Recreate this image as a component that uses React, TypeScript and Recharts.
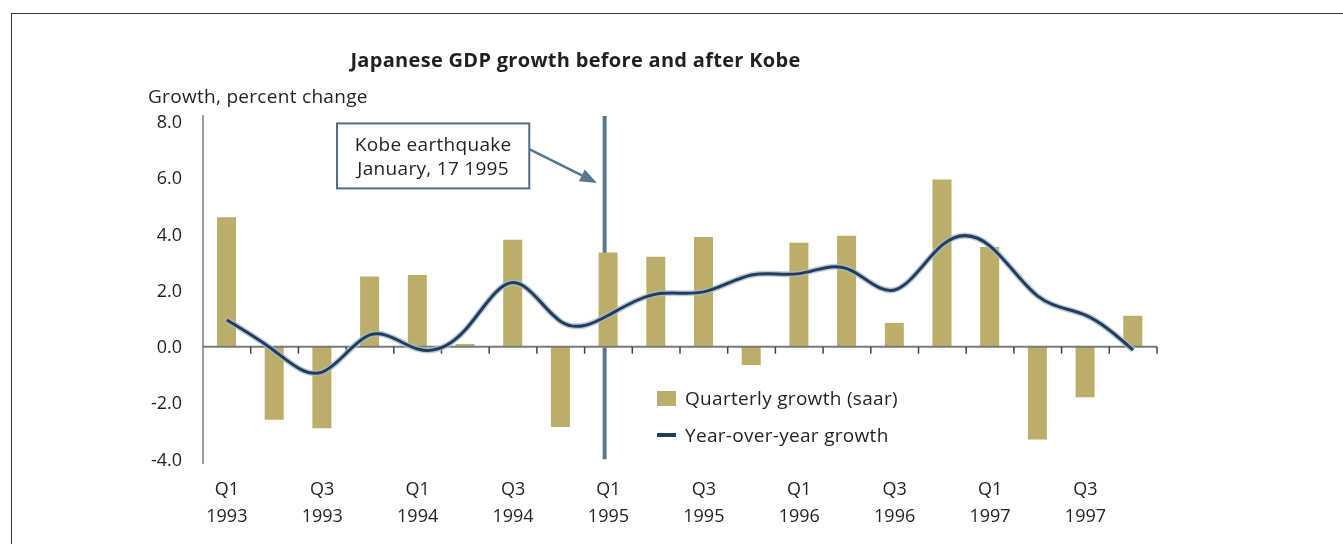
import React from "react";
import {
  ComposedChart,
  Bar,
  Line,
  XAxis,
  YAxis,
  ReferenceLine,
  ReferenceArea,
  Legend,
} from "recharts";

const quarters = [
  "Q1 1993", "Q2 1993", "Q3 1993", "Q4 1993",
  "Q1 1994", "Q2 1994", "Q3 1994", "Q4 1994",
  "Q1 1995", "Q2 1995", "Q3 1995", "Q4 1995",
  "Q1 1996", "Q2 1996", "Q3 1996", "Q4 1996",
  "Q1 1997", "Q2 1997", "Q3 1997", "Q4 1997",
];
const quarterlyGrowth = [
  4.6, -2.6, -2.9, 2.5, 2.55, 0.1, 3.8, -2.85, 3.35, 3.2,
  3.9, -0.65, 3.7, 3.95, 0.85, 5.95, 3.55, -3.3, -1.8, 1.1,
];
const yearOverYear = [
  0.95, -0.15, -0.9, 0.42, -0.08, 0.6, 2.28, 0.9, 1.12, 1.87,
  1.95, 2.55, 2.6, 2.78, 2.02, 3.62, 3.58, 1.8, 1.12, -0.12,
];
const yTicks = [-4, -2, 0, 2, 4, 6, 8];
const yDomain: [number, number] = [-4.17, 8.24];

// annotation, x in quarters from the start of Q1 1993, y in percent
const kobeAt = 8.42; // Jan 17 1995
const noteBox = { x1: 2.81, x2: 6.84, y1: 5.63, y2: 7.94 };
const noteArrow = { x1: 6.84, y1: 7.03, x2: 8.26, y2: 5.82 };

const FONT = '"Open Sans", "Noto Sans", sans-serif';
const TEXT = "#231f20";
const BAR = "#bbad6a";
const NAVY = "#1f3d5f";
const STEEL = "#577790";
const FS = 19;
const LS = 0.3;

const data = quarters.map((q, i) => ({
  q,
  qoq: quarterlyGrowth[i],
  yoy: yearOverYear[i],
}));

const QuarterTick = (props: any) => {
  const { x, y, payload } = props;
  const [qt, yr] = String(payload.value).split(" ");
  return (
    <text x={x} y={y + 31} textAnchor="middle" fill={TEXT} fontSize={18} fontFamily={FONT}>
      <tspan x={x} dy={0}>{qt}</tspan>
      <tspan x={x} dy={27}>{yr}</tspan>
    </text>
  );
};

// zero line with tick marks on the quarter boundaries
const ZeroAxis = (props: any) => {
  const { x1, x2, y1 } = props;
  const step = (x2 - x1) / quarters.length;
  return (
    <g>
      <line x1={x1} y1={y1} x2={x2} y2={y1} stroke="#7a7a7a" strokeWidth={2} />
      {quarters.map((_, i) => (
        <line
          key={i}
          x1={x1 + step * (i + 1)}
          x2={x1 + step * (i + 1)}
          y1={y1}
          y2={y1 + 7}
          stroke="#444"
          strokeWidth={1.5}
        />
      ))}
    </g>
  );
};

// Kobe marker, callout box and arrow, laid out inside the plot area
const KobeNote = (props: any) => {
  const { x, y, width, height } = props;
  const sx = (v: number) => x + (v / quarters.length) * width;
  const sy = (v: number) => y + ((yDomain[1] - v) / (yDomain[1] - yDomain[0])) * height;

  const bx1 = sx(noteBox.x1);
  const bx2 = sx(noteBox.x2);
  const by1 = sy(noteBox.y2);
  const by2 = sy(noteBox.y1);
  const cx = (bx1 + bx2) / 2;
  const cy = (by1 + by2) / 2;

  const ax1 = sx(noteArrow.x1);
  const ay1 = sy(noteArrow.y1);
  const ax2 = sx(noteArrow.x2);
  const ay2 = sy(noteArrow.y2);
  const a = Math.atan2(ay2 - ay1, ax2 - ax1);
  const len = 17;
  const half = 6.5;
  const hx = ax2 - len * Math.cos(a);
  const hy = ay2 - len * Math.sin(a);
  const px = -Math.sin(a) * half;
  const py = Math.cos(a) * half;

  return (
    <g>
      <line
        x1={sx(kobeAt)}
        x2={sx(kobeAt)}
        y1={sy(8.2)}
        y2={sy(-4)}
        stroke={STEEL}
        strokeWidth={4}
      />
      <rect
        x={bx1}
        y={by1}
        width={bx2 - bx1}
        height={by2 - by1}
        fill="#fff"
        stroke="#4f6d85"
        strokeWidth={2}
      />
      <text textAnchor="middle" fill={TEXT} fontSize={FS} letterSpacing={LS} fontFamily={FONT}>
        <tspan x={cx} y={cy - 5}>Kobe earthquake</tspan>
        <tspan x={cx} y={cy + 19}>January, 17 1995</tspan>
      </text>
      <line x1={ax1} y1={ay1} x2={hx} y2={hy} stroke={STEEL} strokeWidth={2.5} />
      <polygon
        points={`${ax2},${ay2} ${hx + px},${hy + py} ${hx - px},${hy - py}`}
        fill={STEEL}
      />
    </g>
  );
};

const renderLegend = (props: any) => {
  const items = (props.payload || []).filter((p: any) => p.type !== "none");
  return (
    <div style={{ fontFamily: FONT, fontSize: FS, letterSpacing: LS, color: TEXT }}>
      {items.map((p: any) => (
        <div key={p.value} style={{ display: "flex", alignItems: "center", height: 37 }}>
          <span
            style={{
              display: "inline-block",
              width: 19,
              height: p.type === "rect" ? 15 : 4,
              background: p.type === "rect" ? BAR : NAVY,
              marginRight: 9,
            }}
          />
          <span>{p.value}</span>
        </div>
      ))}
    </div>
  );
};

const App: React.FC = () => {
  return (
    <div style={{ padding: "6px 0 0 4px", fontFamily: FONT }}>
      <div
        style={{
          position: "fixed",
          left: 11,
          top: 13,
          right: 0,
          bottom: 0,
          borderTop: "1px solid #3a3a3a",
          borderLeft: "1px solid #3a3a3a",
          pointerEvents: "none",
        }}
      />
      <ComposedChart
        width={1320}
        height={520}
        data={data}
        margin={{ top: 101, right: 175, bottom: 10, left: 131 }}
        style={{ fontFamily: FONT }}
      >
        <text
          x={563.5}
          y={53}
          textAnchor="middle"
          fontSize={20}
          letterSpacing={0.3}
          fontWeight="bold"
          fill={TEXT}
        >
          Japanese GDP growth before and after Kobe
        </text>
        <text x={136} y={89} fontSize={FS} letterSpacing={LS} fill={TEXT}>
          Growth, percent change
        </text>
        <XAxis
          dataKey="q"
          interval={1}
          axisLine={false}
          tickLine={false}
          tickSize={0}
          tickMargin={0}
          height={60}
          tick={<QuarterTick />}
        />
        <YAxis
          domain={yDomain}
          ticks={yTicks}
          allowDataOverflow
          width={60}
          tickLine={false}
          tickSize={0}
          tickMargin={21}
          axisLine={{ stroke: "#7a7a7a", strokeWidth: 1.5 }}
          tickFormatter={(v: number) => v.toFixed(1)}
          tick={{ fill: TEXT, fontSize: 18, fontFamily: FONT }}
        />
        <Bar
          dataKey="qoq"
          name="Quarterly growth (saar)"
          fill={BAR}
          barSize={19}
          isAnimationActive={false}
        />
        <ReferenceLine y={0} shape={ZeroAxis} />
        <Line
          dataKey="yoy"
          type="natural"
          stroke="#aebbca"
          strokeOpacity={0.75}
          strokeWidth={6}
          dot={false}
          activeDot={false}
          legendType="none"
          isAnimationActive={false}
        />
        <Line
          dataKey="yoy"
          name="Year-over-year growth"
          type="natural"
          stroke={NAVY}
          strokeWidth={3}
          dot={false}
          activeDot={false}
          isAnimationActive={false}
        />
        <ReferenceArea y1={yDomain[0]} y2={yDomain[1]} shape={KobeNote} />
        <Legend
          layout="vertical"
          align="center"
          verticalAlign="middle"
          content={renderLegend}
          wrapperStyle={{ left: 645, top: 365.5, width: "auto" }}
        />
      </ComposedChart>
    </div>
  );
};

export default App;
